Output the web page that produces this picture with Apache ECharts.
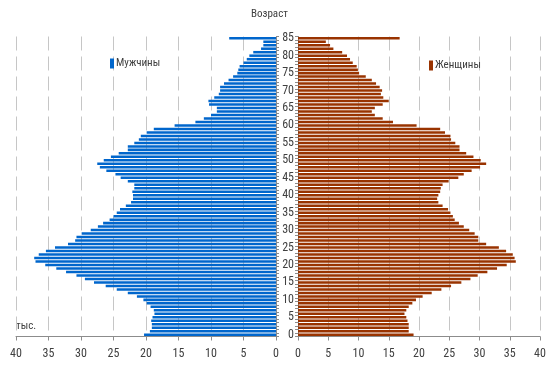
<!DOCTYPE html>
<html>
<head>
<meta charset="utf-8">
<script src="https://cdn.jsdelivr.net/npm/echarts@6/dist/echarts.min.js"></script>
<style>
html,body{margin:0;padding:0;background:#fff;}
#chart{width:550px;height:377px;}
</style>
</head>
<body>
<div id="chart"></div>
<script>
// Ages 0..85
var ages = [];
for (var i = 0; i <= 85; i++) ages.push(String(i));

// Men, thousands (ages 0..85)
var men = [
  20.3, 19.4, 19.1, 19.1, 19.2, 19.0, 18.7, 18.8, 19.3, 19.9,
  20.4, 21.4, 22.8, 24.5, 26.2, 28.0, 29.4, 30.7, 32.3, 33.8,
  35.5, 37.0, 37.2, 36.5, 35.4, 34.0, 32.0, 30.9, 30.7, 29.9,
  28.5, 27.4, 26.6, 25.6, 25.0, 24.5, 24.0, 23.1, 22.3, 22.0,
  22.0, 22.1, 21.8, 21.8, 22.8, 23.9, 24.7, 26.1, 27.1, 27.5,
  26.5, 25.4, 24.2, 22.8, 22.8, 21.8, 21.1, 20.8, 19.9, 18.8,
  15.6, 12.4, 11.1, 10.0, 9.1, 9.1, 10.3, 10.4, 9.5, 8.8,
  8.6, 8.6, 8.0, 7.3, 6.6, 5.95, 5.8, 5.6, 5.0, 4.5,
  4.1, 3.5, 2.3, 1.95, 1.95, 7.2
];

// Women, thousands (ages 0..85)
var women = [
  19.1, 18.3, 18.3, 18.3, 18.1, 17.9, 17.6, 17.9, 18.3, 18.9,
  19.5, 20.6, 22.1, 23.7, 25.3, 27.0, 28.5, 29.7, 31.3, 32.9,
  34.5, 36.0, 35.8, 35.5, 34.4, 33.2, 31.1, 29.8, 29.8, 29.2,
  28.3, 27.4, 26.6, 25.9, 25.6, 25.2, 24.8, 23.9, 23.2, 23.0,
  23.2, 23.5, 23.6, 23.9, 24.9, 26.5, 27.4, 28.7, 30.1, 31.1,
  30.2, 29.0, 27.8, 26.7, 26.7, 26.0, 25.3, 25.2, 24.3, 23.5,
  19.6, 15.7, 14.0, 12.7, 12.2, 12.7, 14.0, 15.0, 14.1, 13.7,
  13.9, 13.5, 12.9, 12.2, 11.2, 10.1, 9.9, 9.7, 9.05, 8.6,
  8.1, 7.3, 5.85, 5.3, 4.6, 16.8
];

var menName = 'Мужчины';
var womenName = 'Женщины';
var titleText = 'Возраст';
var unitText = 'тыс.';

var FONT = '"Roboto Condensed", "DejaVu Sans Condensed", sans-serif';
var TXT = '#404040';
var AXIS = '#8c8c8c';
var GRIDC = '#c6c6c6';

function xAxisCfg(grid, inverse) {
  return {
    type: 'value', gridIndex: grid, min: 0, max: 40, interval: 5, inverse: inverse,
    axisLine: {show: true, lineStyle: {color: AXIS, width: 1}},
    axisTick: {show: true, length: 4, lineStyle: {color: AXIS}},
    axisLabel: {color: TXT, fontFamily: FONT, fontSize: 12, margin: 11},
    splitLine: {show: true, lineStyle: {color: GRIDC, width: 1, type: [14, 6]}}
  };
}

var chart = echarts.init(document.getElementById('chart'), null, {renderer: 'canvas'});
chart.setOption({
  animation: false,
  backgroundColor: '#fff',
  grid: [
    {left: 16, right: 274, top: 36.5, bottom: 40.5},
    {left: 298, right: 10, top: 36.5, bottom: 40.5}
  ],
  xAxis: [xAxisCfg(0, true), xAxisCfg(1, false)],
  yAxis: [
    {
      type: 'category', gridIndex: 0, data: ages, position: 'right',
      axisLine: {show: true, lineStyle: {color: AXIS}},
      axisTick: {show: true, length: 3, interval: 0, lineStyle: {color: AXIS}},
      axisLabel: {show: false},
      splitLine: {show: false}
    },
    {
      type: 'category', gridIndex: 1, data: ages, position: 'left',
      axisLine: {show: true, lineStyle: {color: AXIS}},
      axisTick: {show: true, length: 3, interval: 0, lineStyle: {color: AXIS}},
      axisLabel: {show: true, interval: 4, color: TXT, fontFamily: FONT, fontSize: 12, margin: 4},
      splitLine: {show: false}
    }
  ],
  legend: [
    {
      data: [menName], left: 110, top: 58, padding: 0,
      itemWidth: 4, itemHeight: 10, icon: 'rect',
      textStyle: {color: TXT, fontFamily: FONT, fontSize: 11, padding: [0, 0, 0, -3]}
    },
    {
      data: [womenName], left: 429, top: 60, padding: 0,
      itemWidth: 4, itemHeight: 10, icon: 'rect',
      textStyle: {color: TXT, fontFamily: FONT, fontSize: 11, padding: [0, 0, 0, -3]}
    }
  ],
  graphic: [
    {type: 'text', left: 251, top: 9, style: {text: titleText, fill: TXT, font: '11px ' + FONT}},
    {type: 'text', left: 16, top: 321, style: {text: unitText, fill: TXT, font: '11px ' + FONT}}
  ],
  series: [
    {
      name: menName, type: 'bar', xAxisIndex: 0, yAxisIndex: 0, data: men,
      barWidth: '72%', itemStyle: {color: '#0066cc'}
    },
    {
      name: womenName, type: 'bar', xAxisIndex: 1, yAxisIndex: 1, data: women,
      barWidth: '72%', itemStyle: {color: '#993300'}
    }
  ]
});
</script>
</body>
</html>
